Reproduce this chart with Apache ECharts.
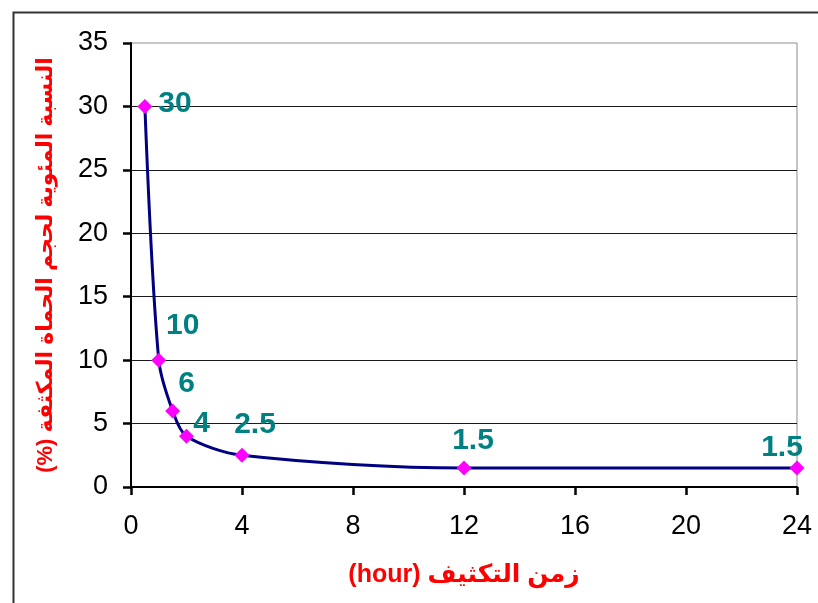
<!DOCTYPE html>
<html>
<head>
<meta charset="utf-8">
<script src="https://cdn.jsdelivr.net/npm/echarts@6/dist/echarts.min.js"></script>
<style>
html,body{margin:0;padding:0;background:#fff;}
#chart{width:818px;height:603px;}
</style>
</head>
<body>
<div id="chart" dir="rtl"></div>
<script>
// Data
const hours = [0.5, 1, 1.5, 2, 4, 12, 24];
const volumePct = [30, 10, 6, 4, 2.5, 1.5, 1.5];
const xTicks = [0, 4, 8, 12, 16, 20, 24];
const yTicks = [0, 5, 10, 15, 20, 25, 30, 35];
const xTitle = 'زمن التكثيف (hour)';
const yTitle = 'النسبة المئوية لحجم الحماة المكثفة (%)';

// label offsets (styling)
const labelOffsets = [[30, -3], [24, -34], [14, -27], [15, -13], [13, -31], [9, -27], [-15, -20]];

const chart = echarts.init(document.getElementById('chart'), null, {renderer: 'canvas'});
const seriesData = hours.map((h, i) => ({
  value: [h, volumePct[i]],
  label: {offset: labelOffsets[i]}
}));

const option = {
  backgroundColor: '#ffffff',
  animation: false,
  graphic: [{
    type: 'rect',
    left: 11, top: 10,
    shape: {x: 0, y: 0, width: 900, height: 700},
    style: {fill: 'none', stroke: '#333', lineWidth: 2},
    silent: true
  }],
  grid: {
    left: 131, top: 43, right: 21, bottom: 116,
    show: true, borderColor: '#8c8c8c', borderWidth: 1, backgroundColor: 'transparent'
  },
  xAxis: {
    type: 'value',
    min: xTicks[0], max: xTicks[xTicks.length - 1], interval: 4,
    name: xTitle,
    nameLocation: 'middle',
    nameGap: 76,
    nameTextStyle: {color: '#ff0000', fontWeight: 'bold', fontSize: 25, fontFamily: 'Liberation Sans, Arial, DejaVu Sans'},
    axisLine: {show: true, onZero: false, lineStyle: {color: '#000', width: 2}},
    axisTick: {show: true, length: 8, lineStyle: {color: '#000', width: 2.5}},
    axisLabel: {color: '#000', fontSize: 27, margin: 26, fontFamily: 'Liberation Sans, Arial'},
    splitLine: {show: false}
  },
  yAxis: {
    type: 'value',
    min: yTicks[0], max: yTicks[yTicks.length - 1], interval: 5,
    name: yTitle,
    nameLocation: 'middle',
    nameGap: 74,
    nameRotate: 90,
    nameTextStyle: {color: '#ff0000', fontWeight: 'bold', fontSize: 22, fontFamily: 'Liberation Sans, Arial, DejaVu Sans'},
    axisLine: {show: true, onZero: false, lineStyle: {color: '#000', width: 2}},
    axisTick: {show: true, length: 8, lineStyle: {color: '#000', width: 2.5}},
    axisLabel: {color: '#000', fontSize: 27, margin: 23, fontFamily: 'Liberation Sans, Arial'},
    splitLine: {show: true, showMinLine: false, showMaxLine: false, lineStyle: {color: '#1a1a1a', width: 1}}
  },
  series: [{
    type: 'line',
    data: seriesData,
    smooth: 0.3,
    lineStyle: {color: '#000080', width: 3},
    symbol: 'diamond',
    symbolSize: [15, 15],
    itemStyle: {color: '#ff00ff'},
    label: {
      show: true,
      position: 'inside',
      formatter: p => String(p.value[1]),
      color: '#008080',
      fontWeight: 'bold',
      fontSize: 30,
      fontFamily: 'Liberation Sans, Arial'
    },
    z: 5
  }]
};
chart.setOption(option);
</script>
</body>
</html>
